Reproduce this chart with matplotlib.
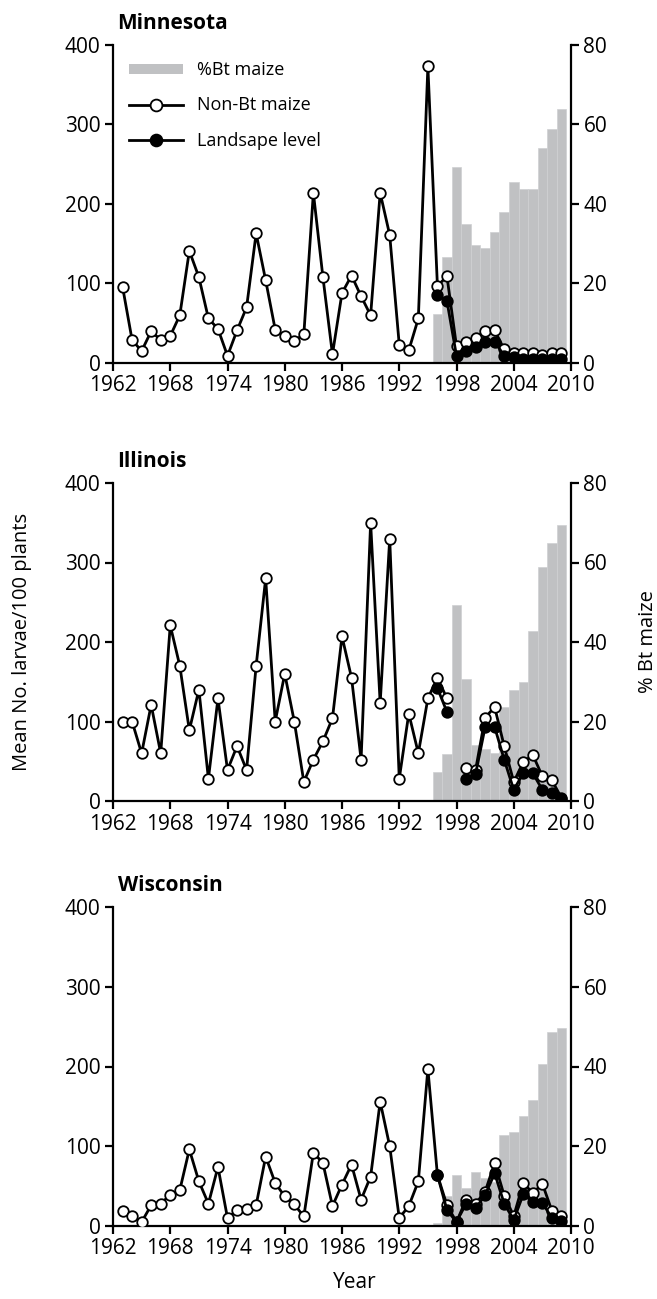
import numpy as np
import matplotlib
matplotlib.use("Agg")
import matplotlib.pyplot as plt
from matplotlib.patches import Patch
from matplotlib.lines import Line2D

plt.rcParams['font.family'] = ['Open Sans', 'DejaVu Sans']

years = np.arange(1963, 2010)
bt_years = np.arange(1996, 2010)

states = ['Minnesota', 'Illinois', 'Wisconsin']

mn_nonbt = [96, 29, 15, 40, 29, 34, 60, 141, 108, 56, 43, 9, 41, 70, 163, 104,
            42, 34, 28, 36, 214, 108, 11, 88, 110, 84, 60, 214, 161, 23, 16, 56,
            373, 97, 109, 21, 27, 31, 40, 41, 17, 12, 13, 12, 10, 12, 12]
il_nonbt = [100, 100, 60, 121, 60, 221, 170, 89, 140, 28, 129, 39, 69, 39, 170,
            280, 100, 160, 100, 24, 52, 75, 104, 207, 155, 52, 350, 123, 330, 28,
            110, 60, 129, 155, 129, np.nan, 41, 39, 105, 118, 69, 24, 49, 58, 31,
            26, 4]
wi_nonbt = [19, 12.5, 5, 26, 28, 39, 45, 96, 56, 28, 74, 10, 20, 21, 26, 87, 54,
            37, 27, 12, 92, 79, 25, 52, 77, 33, 62, 156, 100, 10, 25, 56, 197, 64,
            26, 5, 33, 28, 43, 79, 38, 12.5, 54, 41, 53, 19, 13]

mn_land = [86, 78, 9, 15, 20, 27, 27, 9, 7, 5, 5, 5, 5, 5]
il_land = [142, 112, np.nan, 28, 34, 93, 93, 52, 14, 35, 35, 14, 10, 2]
wi_land = [64, 20, 5, 28, 22, 39, 66, 28, 7.5, 40, 30, 29, 10, 6]

mn_bt = [12.3, 26.7, 49.4, 34.9, 29.7, 28.9, 32.9, 38.1, 45.6, 43.7, 43.8, 54.2, 58.9, 64.0]
il_bt = [7.3, 11.9, 49.2, 30.6, 14.0, 13.0, 12.0, 23.7, 27.8, 30.0, 42.7, 58.9, 65.0, 69.4]
wi_bt = [0.8, 7.4, 12.8, 9.6, 13.6, 12.0, 11.0, 22.7, 23.5, 27.7, 31.6, 40.7, 48.6, 49.6]

nonbt = [mn_nonbt, il_nonbt, wi_nonbt]
land = [mn_land, il_land, wi_land]
bt = [mn_bt, il_bt, wi_bt]

W, H = 657, 1299
fig = plt.figure(figsize=(W / 100, H / 100), dpi=100)

# pixel positions of the three panels (top, bottom of plotting area)
panel_px = [(45, 363), (483, 801), (907, 1226)]
left_px, right_px = 113, 571

bar_color = '#c0c1c3'
tick_fs = 15
ms = 7.6
for i in range(3):
    top, bot = panel_px[i]
    ax = fig.add_axes([left_px / W, 1 - bot / H, (right_px - left_px) / W, (bot - top) / H])
    ax2 = ax.twinx()

    ax2.bar(bt_years, bt[i], width=1.0, color=bar_color,
            edgecolor='#cfd0d2', linewidth=0.5)
    ax2.set_ylim(0, 80)
    ax2.set_yticks([0, 20, 40, 60, 80])

    ax.plot(years, nonbt[i], color='black', lw=2.0, marker='o', ms=ms,
            mfc='white', mec='black', mew=1.3, zorder=3)
    ax.plot(bt_years, land[i], color='black', lw=2.0, marker='o', ms=ms,
            mfc='black', mec='black', mew=1.3, zorder=4)

    ax.set_zorder(ax2.get_zorder() + 1)
    ax.patch.set_visible(False)

    ax.set_xlim(1962, 2010)
    ax.set_ylim(0, 400)
    ax.set_xticks(np.arange(1962, 2011, 6))
    ax.set_yticks([0, 100, 200, 300, 400])

    for a in (ax, ax2):
        a.spines['top'].set_visible(False)
        for s in ('left', 'right', 'bottom'):
            a.spines[s].set_linewidth(1.6)
        a.tick_params(width=1.6, length=6, labelsize=tick_fs, pad=3, colors='black')
    ax.spines['right'].set_visible(False)
    ax2.spines['left'].set_visible(False)
    ax2.spines['bottom'].set_visible(False)

    ax.text(0.01, 1.035, states[i], transform=ax.transAxes, fontsize=15,
            fontweight='bold', ha='left', va='bottom')

    if i == 0:
        handles = [
            Patch(facecolor=bar_color, edgecolor='none'),
            Line2D([], [], color='black', lw=2.0, marker='o', ms=8.5,
                   mfc='white', mec='black', mew=1.3),
            Line2D([], [], color='black', lw=2.0, marker='o', ms=8.5,
                   mfc='black', mec='black', mew=1.3),
        ]
        leg = ax.legend(handles, ['%Bt maize', 'Non-Bt maize', 'Landsape level'],
                        loc='upper left', bbox_to_anchor=(0.0, 1.0), frameon=False,
                        fontsize=13, handlelength=3.0, handleheight=0.45,
                        labelspacing=0.95, handletextpad=0.75)

fig.text(22 / W, 1 - 642 / H, 'Mean No. larvae/100 plants', rotation=90,
         ha='center', va='center', fontsize=14.5)
fig.text(648 / W, 1 - 642 / H, '% Bt maize', rotation=90,
         ha='center', va='center', fontsize=14.5)
fig.text(355 / W, 1 - 1283 / H, 'Year', ha='center', va='center', fontsize=15)

fig.savefig('out.png', dpi=100)
